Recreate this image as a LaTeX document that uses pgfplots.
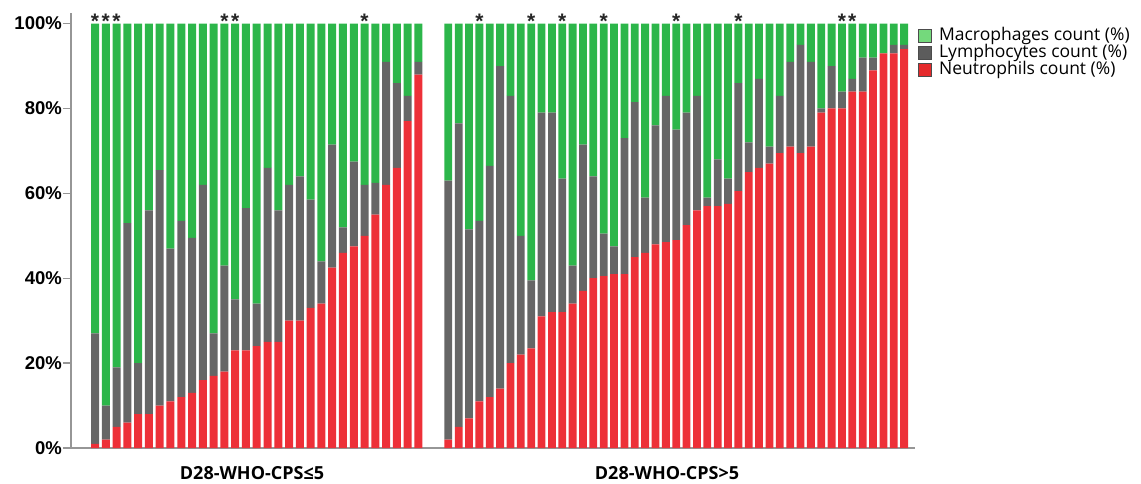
\documentclass[border=0pt]{standalone}
\usepackage{pgfplots}
\pgfplotsset{compat=1.18}
\usepackage{pgfplotstable}
\usepackage{fontspec}
\setmainfont{Open Sans}
\newfontfamily\arialfont{Liberation Sans}

\definecolor{macro}{RGB}{44,182,74}
\definecolor{lympho}{RGB}{102,102,102}
\definecolor{neutro}{RGB}{237,48,56}
\definecolor{macroLeg}{RGB}{116,217,124}
\definecolor{lymphoLeg}{RGB}{92,92,92}
\definecolor{neutroLeg}{RGB}{229,42,44}
\definecolor{axisgray}{RGB}{150,150,150}

% idx  neutrophils  lymphocytes  macrophages (percent of cells)
\pgfplotstableread{
idx N L M
1 1 26 73
2 2 8 90
3 5 14 81
4 6 47 47
5 8 12 80
6 8 48 44
7 10 55.5 34.5
8 11 36 53
9 12 41.5 46.5
10 13 36.5 50.5
11 16 46 38
12 17 10 73
13 18 25 57
14 23 12 65
15 23 33.5 43.5
16 24 10 66
17 25 41 34
18 25 31 44
19 30 32 38
20 30 34 36
21 33 25.5 41.5
22 34 10 56
23 42.5 29 28.5
24 46 6 48
25 47.5 20 32.5
26 50 12 38
27 55 7.5 37.5
28 62 29 9
29 66 20 14
30 77 6 17
31 88 3 9
}\lowcps

\pgfplotstableread{
idx N L M
1 2 61 37
2 5 71.5 23.5
3 7 44.5 48.5
4 11 42.5 46.5
5 12 54.5 33.5
6 14 76 10
7 20 63 17
8 22 28 50
9 23.5 16 60.5
10 31 48 21
11 32 47 21
12 32 31.5 36.5
13 34 9 57
14 37 34.5 28.5
15 40 24 36
16 40.5 10 49.5
17 41 6.5 52.5
18 41 32 27
19 45 36.5 18.5
20 46 13 41
21 48 28 24
22 48.5 34.5 17
23 49 26 25
24 52.5 26.5 21
25 56 27 17
26 57 2 41
27 57 11 32
28 57.5 6 36.5
29 60.5 25.5 14
30 65 7 28
31 66 21 13
32 67 4 29
33 69.5 13.5 17
34 71 20 9
35 69.5 25.5 5
36 71 20 9
37 79 1 20
38 80 10 10
39 80 4 16
40 84 3 13
41 84 8 8
42 89 3 8
43 93 0 7
44 93 2 5
45 94 1 5
}\highcps

\pgfplotsset{
  panel/.style={
    scale only axis, height=435pt, ymin=0, ymax=102.5,
    anchor=south west, clip=false,
  },
  bars/.style={
    panel, ybar stacked,
    axis x line*=bottom,
    x axis line style={axisgray, line width=1.3pt},
    xtick=\empty,
  },
  stars/.style={
    panel, hide axis,
  },
  starmark/.style={
    only marks, mark=text, text mark={*}, text mark as node=true,
    text mark style={font=\arialfont\bfseries\fontsize{21}{21}\selectfont, inner sep=0pt, text=black!85},
  },
  catlabel/.style={
    xlabel style={font=\bfseries\fontsize{18}{20}\selectfont, anchor=base, yshift=-31pt},
  },
}

\begin{document}
\begin{tikzpicture}
\useasboundingbox (0,0) rectangle (1141pt,483pt);

% left panel
\begin{axis}[bars, catlabel,
  at={(71pt,35pt)}, width=362pt, xmin=-1.226, xmax=32.35,
  bar width=8pt,
  axis y line*=left,
  y axis line style={axisgray, line width=1.3pt},
  ytick={0,20,40,60,80,100},
  ytick align=outside, major tick length=8pt,
  ytick style={axisgray, line width=1.3pt},
  yticklabel={\pgfmathprintnumber{\tick}\%},
  /pgf/number format/assume math mode=true,
  yticklabel style={font=\arialfont\bfseries\fontsize{18.5}{20}\selectfont, inner sep=1pt},
  xlabel={D28-WHO-CPS≤5},
  xlabel style={at={(axis description cs:0.5,0)}},
]
\addplot[fill=neutro, draw=none] table[x=idx, y=N] {\lowcps};
\addplot[fill=lympho, draw=none] table[x=idx, y=L] {\lowcps};
\addplot[fill=macro, draw=none] table[x=idx, y=M] {\lowcps};
\end{axis}

\begin{axis}[stars, at={(71pt,35pt)}, width=362pt, xmin=-1.226, xmax=32.35]
\addplot[starmark] coordinates {(1,100.6) (2,100.6) (3,100.6) (13,100.6) (14,100.6) (26,100.6)};
\end{axis}

% right panel
\begin{axis}[bars, catlabel,
  at={(433pt,35pt)}, width=482pt, xmin=-0.477, xmax=46.05,
  bar width=7.8pt,
  axis y line=none,
  xlabel={D28-WHO-CPS>5},
  xlabel style={at={(axis description cs:0.4855,0)}},
  legend image code/.code={\draw[#1] (0pt,-6.5pt) rectangle (13pt,6.5pt);},
  legend cell align=left,
  legend style={at={(axis description cs:1.006,0.968)}, anchor=north west,
    draw=none, fill=none, inner sep=0pt, row sep=0pt,
    font=\fontsize{17.5}{17.5}\selectfont,
    nodes={inner sep=0pt, text height=13pt, text depth=4pt},
    /tikz/every odd column/.append style={column sep=7pt}},
]
\addplot[fill=neutro, draw=none, forget plot] table[x=idx, y=N] {\highcps};
\addplot[fill=lympho, draw=none, forget plot] table[x=idx, y=L] {\highcps};
\addplot[fill=macro, draw=none, forget plot] table[x=idx, y=M] {\highcps};
\addlegendimage{fill=macroLeg, draw=black!70, line width=1pt}
\addlegendentry{Macrophages count (\%)}
\addlegendimage{fill=lymphoLeg, draw=black!70, line width=1pt}
\addlegendentry{Lymphocytes count (\%)}
\addlegendimage{fill=neutroLeg, draw=black!70, line width=1pt}
\addlegendentry{Neutrophils count (\%)}
\end{axis}

\begin{axis}[stars, at={(433pt,35pt)}, width=482pt, xmin=-0.477, xmax=46.05]
\addplot[starmark] coordinates {(4,100.6) (9,100.6) (12,100.6) (16,100.6) (23,100.6) (29,100.6) (39,100.6) (40,100.6)};
\end{axis}
\end{tikzpicture}
\end{document}
